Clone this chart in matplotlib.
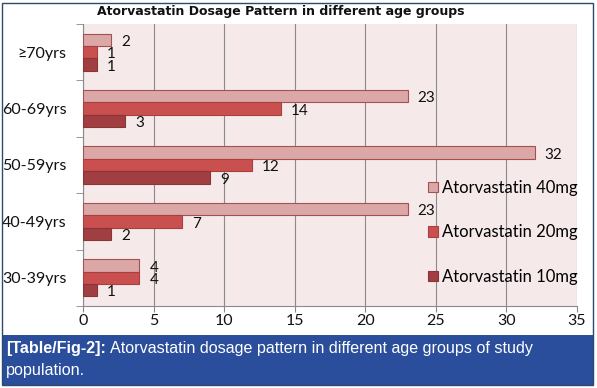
import matplotlib
matplotlib.use("Agg")
import matplotlib.pyplot as plt
from matplotlib.patches import Rectangle
import numpy as np

categories = ["30-39yrs", "40-49yrs", "50-59yrs", "60-69yrs", "\u226570yrs"]
mg40 = [4, 23, 32, 23, 2]
mg20 = [4, 7, 12, 14, 1]
mg10 = [1, 2, 9, 3, 1]
series_names = ["Atorvastatin 40mg", "Atorvastatin 20mg", "Atorvastatin 10mg"]
xticks = [0, 5, 10, 15, 20, 25, 30, 35]

FONT = ["Lato", "DejaVu Sans"]
W, H = 597, 388
fig = plt.figure(figsize=(W / 100, H / 100), dpi=100)
fig.patch.set_facecolor("white")

ax = fig.add_axes([83 / W, 1 - 306 / H, (577 - 83) / W, (306 - 24) / H])
ax.set_facecolor("#f5e9ea")

y = np.arange(len(categories))
h = 0.22
fills = ["#dba7a7", "#c9504f", "#a13e42"]
edges = ["#a3524f", "#a84040", "#8a3437"]
data = [mg40, mg20, mg10]
offsets = [h, 0, -h]
for vals, off, fc, ec, name in zip(data, offsets, fills, edges, series_names):
    ax.barh(y + off, vals, height=h, color=fc, edgecolor=ec, linewidth=0.8,
            label=name, zorder=3)
    for yy, v in zip(y + off, vals):
        ax.text(v + 0.7, yy - 0.04, str(v), va="center", ha="left",
                fontsize=11, family=FONT, color="#111111", zorder=4)

ax.set_xlim(0, 35)
ax.set_ylim(-0.5, len(categories) - 0.5)
ax.set_xticks(xticks)
ax.set_xticklabels([str(t) for t in xticks], fontsize=11.5, family=FONT, color="#111111")
ax.set_yticks(y)
ax.set_yticklabels(categories, fontsize=11.5, family=FONT, color="#111111")
ax.set_yticks(np.arange(-0.5, len(categories), 1.0), minor=True)
ax.tick_params(axis="y", which="major", length=0, pad=12)
ax.tick_params(axis="y", which="minor", length=5, color="#888888", direction="out")
ax.tick_params(axis="x", which="major", length=4, color="#888888", pad=2)
ax.grid(axis="x", color="#8a8a8a", linewidth=0.8, zorder=1)
for s in ["top", "right"]:
    ax.spines[s].set_visible(False)
for s in ["left", "bottom"]:
    ax.spines[s].set_color("#8a8a8a")
    ax.spines[s].set_linewidth(0.8)

ax.legend(loc="upper left", bbox_to_anchor=((428 - 83) / 494, (306 - 180) / 282),
          frameon=False, prop={"family": FONT, "size": 12},
          handlelength=0.6, handleheight=0.6, handletextpad=0.25,
          labelspacing=1.7, borderaxespad=0, borderpad=0)

fig.text(281 / W, 1 - 12 / H, "Atorvastatin Dosage Pattern in different age groups",
         ha="center", va="center", fontsize=9, fontweight="bold", color="#111111")

# caption band
fig.patches.append(Rectangle((2 / W, 1 - 385 / H), (593 - 2) / W, (385 - 335) / H,
                             transform=fig.transFigure, facecolor="#2a4d9c",
                             edgecolor="none", zorder=0))
fig.patches.append(Rectangle((2 / W, 1 - 385 / H), (593 - 2) / W, (385 - 3) / H,
                             transform=fig.transFigure, facecolor="none",
                             edgecolor="#2c4a6a", linewidth=1.0, zorder=5))
CAP = 11.6
t1 = fig.text(6 / W, 1 - 353 / H, "[Table/Fig-2]:", ha="left", va="baseline",
              fontsize=CAP, fontweight="bold", family="Liberation Sans", color="white")
fig.canvas.draw()
bb = t1.get_window_extent(renderer=fig.canvas.get_renderer())
fig.text(bb.x1 / W + 4 / W, 1 - 353 / H, "Atorvastatin dosage pattern in different age groups of study",
         ha="left", va="baseline", fontsize=CAP, family="Liberation Sans", color="white")
fig.text(6 / W, 1 - 375 / H, "population.", ha="left", va="baseline",
         fontsize=CAP, family="Liberation Sans", color="white")

fig.savefig("out.png", dpi=100)
